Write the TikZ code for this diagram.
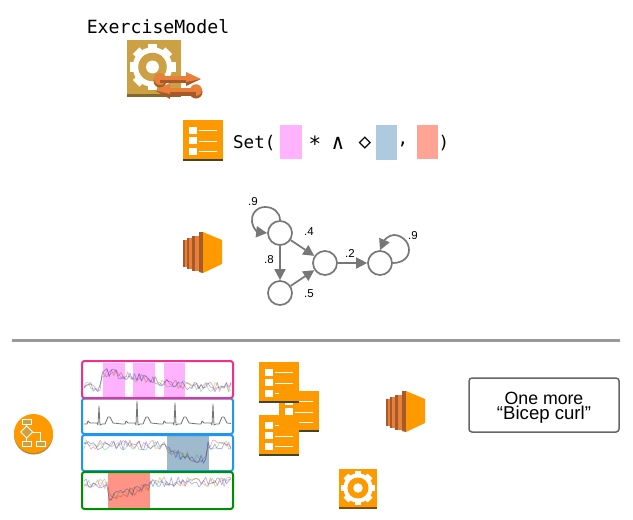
\documentclass[tikz,border=0pt]{standalone}
\usepackage{fontspec}
\setmainfont{Liberation Sans}
\setmonofont{DejaVu Sans Mono}
\usetikzlibrary{arrows.meta}

\definecolor{awsorange}{HTML}{FF9900}
\definecolor{awstan}{HTML}{CCA143}
\definecolor{awsbrown}{HTML}{A65A2A}
\definecolor{awsmid}{HTML}{E8803A}
\definecolor{awsdark}{HTML}{434325}
\definecolor{edgegray}{HTML}{777777}
\definecolor{swatchpink}{HTML}{FFB3FF}
\definecolor{swatchblue}{HTML}{AECADF}
\definecolor{swatchred}{HTML}{FFA394}
\definecolor{panelpink}{HTML}{F0308A}
\definecolor{panelblue}{HTML}{1E96F5}
\definecolor{panelgreen}{HTML}{008F00}

\tikzset{
    state/.style={circle,draw=edgegray,line width=1.7pt,minimum size=24pt,inner sep=0pt},
    edge/.style={draw=edgegray,line width=1.7pt,-{Triangle[length=11pt,width=11pt]}},
    prob/.style={font=\fontsize{11.5}{13}\selectfont,inner sep=0pt},
    code/.style={font=\ttfamily\fontsize{17.5}{20}\selectfont,inner sep=0pt},
    symbol/.style={font=\ttfamily\fontsize{21}{22}\selectfont,inner sep=0pt},
    panel/.style={line width=2pt,rounded corners=2.5pt},
    trace/.style={line width=0.7pt,opacity=0.33,line join=round},
}

% list icon: left, top, lengths of first and last line
\newcommand{\listicon}[4]{
    \begin{scope}[shift={(#1,#2)}]
        \fill[awsdark] (0,38) rectangle (40,41);
        \fill[awsorange] (0,0) rectangle (40,39);
        \foreach \row in {6.5,17,27.5} {
            \fill[white] (6,\row) rectangle (14,{\row+7});
        }
        \draw[white,line width=1pt] (16,10) -- ++(#3,0);
        \draw[white,line width=1pt] (16,21) -- ++(18,0);
        \draw[white,line width=1pt] (16,31) -- ++(#4,0);
    \end{scope}
}

% gear: centre, radius, ring colour
\newcommand{\gearicon}[4]{
    \begin{scope}[shift={(#1,#2)},scale=#3]
        \foreach \a in {0,45,...,315} {
            \fill[white,rotate=\a] (-0.2,-1) rectangle (0.2,-0.7);
        }
        \fill[white] (0,0) circle (0.86);
        \fill[#4] (0,0) circle (0.62);
        \fill[white] (0,0) circle (0.28);
    \end{scope}
}

% server icon: left, top
\newcommand{\servericon}[2]{
    \begin{scope}[shift={(#1,#2)}]
        \fill[awsbrown] (0,8) rectangle (2,35);
        \fill[awsmid] (2,8) rectangle (4,35);
        \fill[awsbrown] (4,6) rectangle (5.5,37);
        \fill[awsmid] (5.5,6) rectangle (9,37);
        \fill[awsbrown] (9,4) rectangle (11.5,39);
        \fill[awsmid] (11.5,4) rectangle (16,39);
        \fill[awsbrown] (16,0) -- (20,0) -- (20,41) -- (16,40) -- cycle;
        \fill[awsorange] (20,0) -- (39,8) -- (39,32) -- (20,41) -- cycle;
    \end{scope}
}

% noisy three-axis trace: seed, x0, x1, base curve
\newcommand{\sensor}[4]{
    \pgfmathsetseed{#1}
    \foreach \tcol in {red,green!70!black,blue} {
        \draw[trace,\tcol] plot[domain=#2:#3,samples=65] (\x,{#4+5*rand});
    }
}

\begin{document}
\begin{tikzpicture}[x=1pt,y=-1pt]
    \useasboundingbox (0,0) rectangle (633,520);

    % exercise model
    \node[font=\ttfamily\fontsize{18.2}{20}\selectfont,inner sep=0pt] (modelname) at (158,27) {ExerciseModel};
    \fill[awstan!65!black] (127,93) rectangle (181,97);
    \fill[awstan] (127,40) rectangle (181,94);
    \gearicon{152.5}{67}{23}{awstan}
    % outgoing arrow
    \fill[awsbrown] (160,81) circle (6.5);
    \fill[awsmid] (160,79) circle (6);
    \fill[awsbrown] (160,79) rectangle (187,83);
    \fill[awsmid] (160,76) rectangle (187,80);
    \fill[awsbrown] (186,79) -- (201,79) -- (186,86) -- cycle;
    \fill[awsmid] (186,72) -- (201,79) -- (186,82) -- cycle;
    % incoming arrow
    \fill[awsbrown] (196,92) circle (6.5);
    \fill[awsmid] (196,90) circle (5.8);
    \fill[awsbrown] (170,91) rectangle (196,96);
    \fill[awsmid] (170,87.5) rectangle (196,92);
    \fill[awsbrown] (170,93) -- (155,90.5) -- (170,99) -- cycle;
    \fill[awsmid] (170,83) -- (155,90.5) -- (170,94) -- cycle;

    % specification line
    \listicon{183}{120}{18}{18}
    \node[code,anchor=west] (setopen) at (233,143) {Set(};
    \fill[swatchpink] (280,125) rectangle (302,159);
    \node[symbol] (star) at (315,144) {*};
    \node[symbol] (wedge) at (338,143) {∧};
    \node[symbol] (eventually) at (365,143) {◇};
    \fill[swatchblue] (376,125) rectangle (397,160);
    \node[code] (comma) at (403,144) {,};
    \fill[swatchred] (417,125) rectangle (438,159);
    \node[code] (setclose) at (444,143) {)};

    % markov chain
    \servericon{183}{232}
    \node[state] (s1) at (280,233) {};
    \node[state] (s2) at (325,263) {};
    \node[state] (s3) at (380,263) {};
    \node[state] (s4) at (280,293) {};
    \draw[edge] (s1) -- (s2);
    \draw[edge] (s1) -- (s4);
    \draw[edge] (s4) -- (s2);
    \draw[edge] (s2) -- (s3);
    \draw[edge] (s1.north) .. controls (280,212) and (273,207) .. (265,207)
        .. controls (256,207) and (251,215) .. (252,222) .. controls (253,229) and (258,232) .. (s1.west);
    \draw[edge] (s3.east) .. controls (402,263) and (409,258) .. (409,250)
        .. controls (409,241) and (401,235) .. (394,235) .. controls (388,235) and (384,241) .. (s3.north);
    \node[prob] (p1) at (253,202) {.9};
    \node[prob] (p2) at (309,232) {.4};
    \node[prob] (p3) at (269,260) {.8};
    \node[prob] (p4) at (309,294) {.5};
    \node[prob] (p5) at (350,253) {.2};
    \node[prob] (p6) at (413,236) {.9};

    \draw[line width=3pt,black!40] (12,340) -- (620,340);

    % workflow icon
    \fill[awstan!85!black] (33.5,435) circle (19.5);
    \fill[awsorange] (33.5,433.5) circle (19.5);
    \draw[white,line width=0.8pt] (26.7,424) -- (26.7,441);
    \draw[white,line width=0.8pt] (26.7,432) -- (40.5,432) -- (40.5,441);
    \draw[white,fill=awstan,line width=0.8pt] (22.5,419) rectangle (31.5,424);
    \draw[white,fill=awstan,line width=0.8pt] (26.7,426) -- (32.7,432) -- (26.7,438) -- (20.7,432) -- cycle;
    \draw[white,fill=awstan,line width=0.8pt] (22.5,441.5) rectangle (31.5,446.5);
    \draw[white,fill=awstan,line width=0.8pt] (36,441.5) rectangle (45,446.5);

    % sensor panels
    \fill[swatchpink] (103,363) rectangle (125,397);
    \fill[swatchpink] (133,363) rectangle (155,397);
    \fill[swatchpink] (164,363) rectangle (185,397);
    \fill[swatchblue!92!black] (167,436) rectangle (209,470);
    \fill[swatchred!90!red] (108,472) rectangle (150,508);
    \sensor{11}{84}{231}{387-(\x>102)*(\x<185)*(15-(\x-102)*0.16)}
    \sensor{23}{84}{231}{445+(\x>165)*(\x<208)*(6+(\x-165)*0.25)}
    \sensor{37}{84}{231}{484-(\x>150)*2+(\x>107)*(\x<150)*(13-(\x-107)*0.22)}
    \begin{scope}
        \clip (84,400) rectangle (231,432);
        \foreach \r/\h in {99/406,137/401,175/403,213/404} {
            \draw[black!55,line width=0.8pt,line join=round]
                (\r-15,424) -- (\r-12,424) -- (\r-11,421) -- (\r-9,423) -- (\r-2,423) -- (\r-1,425) -- (\r,\h)
                -- (\r+1,425) -- (\r+3,424) -- (\r+6,424) -- (\r+9,417) -- (\r+11,417) -- (\r+14,423) -- (\r+23,424);
        }
    \end{scope}
    \draw[panel,panelblue] (82,398.5) rectangle (233,434);
    \draw[panel,panelblue] (82,435) rectangle (233,471);
    \draw[panel,panelpink] (82,361) rectangle (233,398);
    \draw[panel,panelgreen] (82,472) rectangle (233,509);

    % query results
    \listicon{279}{391}{18}{18}
    \listicon{259}{362}{18}{4}
    \listicon{259}{415}{4}{18}
    \servericon{386}{391}
    \fill[awsorange!50!black] (339,506) rectangle (377,509);
    \fill[awsorange] (339,469) rectangle (377,507);
    \gearicon{358}{488}{17}{awsorange}

    \node[draw=black!60,line width=1.5pt,rounded corners=3pt,minimum width=150pt,minimum height=54pt,inner sep=0pt] (answer) at (544,405) {};
    \node[align=center,inner sep=0pt] (answertext) at (544,408)
        {\fontsize{17.7}{22}\selectfont One more\\\fontsize{18.6}{22}\selectfont “Bicep curl”};
\end{tikzpicture}
\end{document}
